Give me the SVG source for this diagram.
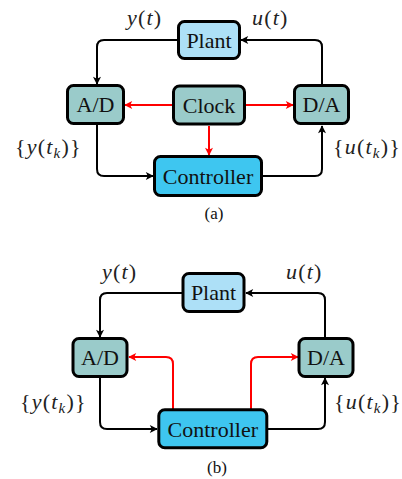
<svg xmlns="http://www.w3.org/2000/svg" width="402" height="479" viewBox="0 0 402 479">
  <style>
    .node { stroke: #000; stroke-width: 3; }
    .plant { fill: #ade0f7; }
    .conv { fill: #9acbca; }
    .ctrl { fill: #3ec6f0; }
    .lbl { font-family: 'Liberation Serif', serif; font-size: 22px; fill: #111; text-anchor: middle; }
    .math { font-family: 'Liberation Serif', serif; font-size: 22px; fill: #222; letter-spacing: 1.2px; }
    .math .v { font-style: italic; }
    .cap { font-family: 'Liberation Serif', serif; font-size: 17px; fill: #111; text-anchor: middle; }
    .wire { fill: none; stroke: #000; stroke-width: 2; }
    .clk { fill: none; stroke: #f00; stroke-width: 2; }
  </style>
  <defs>
    <marker id="arrowBlack" viewBox="0 0 10 10" refX="9" refY="5" markerWidth="9" markerHeight="8" markerUnits="userSpaceOnUse" orient="auto">
      <path d="M0,0 L10,5 L0,10 L2.5,5 Z" fill="#000"/>
    </marker>
    <marker id="arrowRed" viewBox="0 0 10 10" refX="9" refY="5" markerWidth="9" markerHeight="8" markerUnits="userSpaceOnUse" orient="auto">
      <path d="M0,0 L10,5 L0,10 L2.5,5 Z" fill="#f00"/>
    </marker>
  </defs>

  <!-- (a) clock-driven sampled loop -->
  <g id="connectors-a">
    <path class="wire" d="M177,40 H104 Q97,40 97,47 V84" marker-end="url(#arrowBlack)"/>
    <path class="wire" d="M322,86 V47 Q322,40 315,40 H241" marker-end="url(#arrowBlack)"/>
    <path class="wire" d="M97,125 V169 Q97,176 104,176 H153" marker-end="url(#arrowBlack)"/>
    <path class="wire" d="M263,176 H315 Q322,176 322,169 V126" marker-end="url(#arrowBlack)"/>
    <path class="clk" d="M172,105 H125" marker-end="url(#arrowRed)"/>
    <path class="clk" d="M246,105 H293" marker-end="url(#arrowRed)"/>
    <path class="clk" d="M209,126 V155" marker-end="url(#arrowRed)"/>
  </g>
  <g id="plant-a">
    <rect class="node plant" x="178.5" y="21.5" width="61" height="37" rx="6"/>
    <text class="lbl" x="209" y="47.5">Plant</text>
  </g>
  <g id="ad-a">
    <rect class="node conv" x="67.5" y="85.5" width="56" height="38" rx="6"/>
    <text class="lbl" x="95.5" y="112">A/D</text>
  </g>
  <g id="clock-a">
    <rect class="node conv" x="173.5" y="86" width="71" height="38" rx="6"/>
    <text class="lbl" x="209" y="112.5">Clock</text>
  </g>
  <g id="da-a">
    <rect class="node conv" x="294.5" y="85.5" width="54" height="38" rx="6"/>
    <text class="lbl" x="321.5" y="112">D/A</text>
  </g>
  <g id="controller-a">
    <rect class="node ctrl" x="154.5" y="156.5" width="107" height="39" rx="6"/>
    <text class="lbl" x="208" y="184">Controller</text>
  </g>
  <g id="labels-a">
    <text class="math" x="127" y="25"><tspan class="v">y</tspan>(<tspan class="v">t</tspan>)</text>
    <text class="math" x="252" y="25"><tspan class="v">u</tspan>(<tspan class="v">t</tspan>)</text>
    <text class="math" x="15" y="154">{<tspan class="v">y</tspan>(<tspan class="v">t</tspan><tspan class="v" font-size="15" dy="4">k</tspan><tspan dy="-4">)}</tspan></text>
    <text class="math" x="333" y="154">{<tspan class="v">u</tspan>(<tspan class="v">t</tspan><tspan class="v" font-size="15" dy="4">k</tspan><tspan dy="-4">)}</tspan></text>
    <text class="cap" x="214" y="219">(a)</text>
  </g>

  <!-- (b) controller-driven loop -->
  <g id="connectors-b">
    <path class="wire" d="M182,293 H107 Q100,293 100,300 V337" marker-end="url(#arrowBlack)"/>
    <path class="wire" d="M325,338 V300 Q325,293 318,293 H246" marker-end="url(#arrowBlack)"/>
    <path class="wire" d="M100,377 V422 Q100,429 107,429 H157" marker-end="url(#arrowBlack)"/>
    <path class="wire" d="M268,429 H318 Q325,429 325,422 V378" marker-end="url(#arrowBlack)"/>
    <path class="clk" d="M173,409 V364 Q173,357 166,357 H129" marker-end="url(#arrowRed)"/>
    <path class="clk" d="M251,409 V364 Q251,357 258,357 H298" marker-end="url(#arrowRed)"/>
  </g>
  <g id="plant-b">
    <rect class="node plant" x="183" y="273.5" width="61" height="38" rx="6"/>
    <text class="lbl" x="213.5" y="300">Plant</text>
  </g>
  <g id="ad-b">
    <rect class="node conv" x="73" y="338.5" width="54" height="38" rx="6"/>
    <text class="lbl" x="100" y="365">A/D</text>
  </g>
  <g id="da-b">
    <rect class="node conv" x="299" y="338.5" width="54" height="38" rx="6"/>
    <text class="lbl" x="326" y="365">D/A</text>
  </g>
  <g id="controller-b">
    <rect class="node ctrl" x="158.8" y="409.8" width="108" height="38" rx="6"/>
    <text class="lbl" x="212.8" y="436.5">Controller</text>
  </g>
  <g id="labels-b">
    <text class="math" x="102" y="279"><tspan class="v">y</tspan>(<tspan class="v">t</tspan>)</text>
    <text class="math" x="286" y="279"><tspan class="v">u</tspan>(<tspan class="v">t</tspan>)</text>
    <text class="math" x="20" y="409">{<tspan class="v">y</tspan>(<tspan class="v">t</tspan><tspan class="v" font-size="15" dy="4">k</tspan><tspan dy="-4">)}</tspan></text>
    <text class="math" x="334" y="409" letter-spacing="0.6">{<tspan class="v">u</tspan>(<tspan class="v">t</tspan><tspan class="v" font-size="15" dy="4">k</tspan><tspan dy="-4">)}</tspan></text>
    <text class="cap" x="217" y="473">(b)</text>
  </g>
</svg>
